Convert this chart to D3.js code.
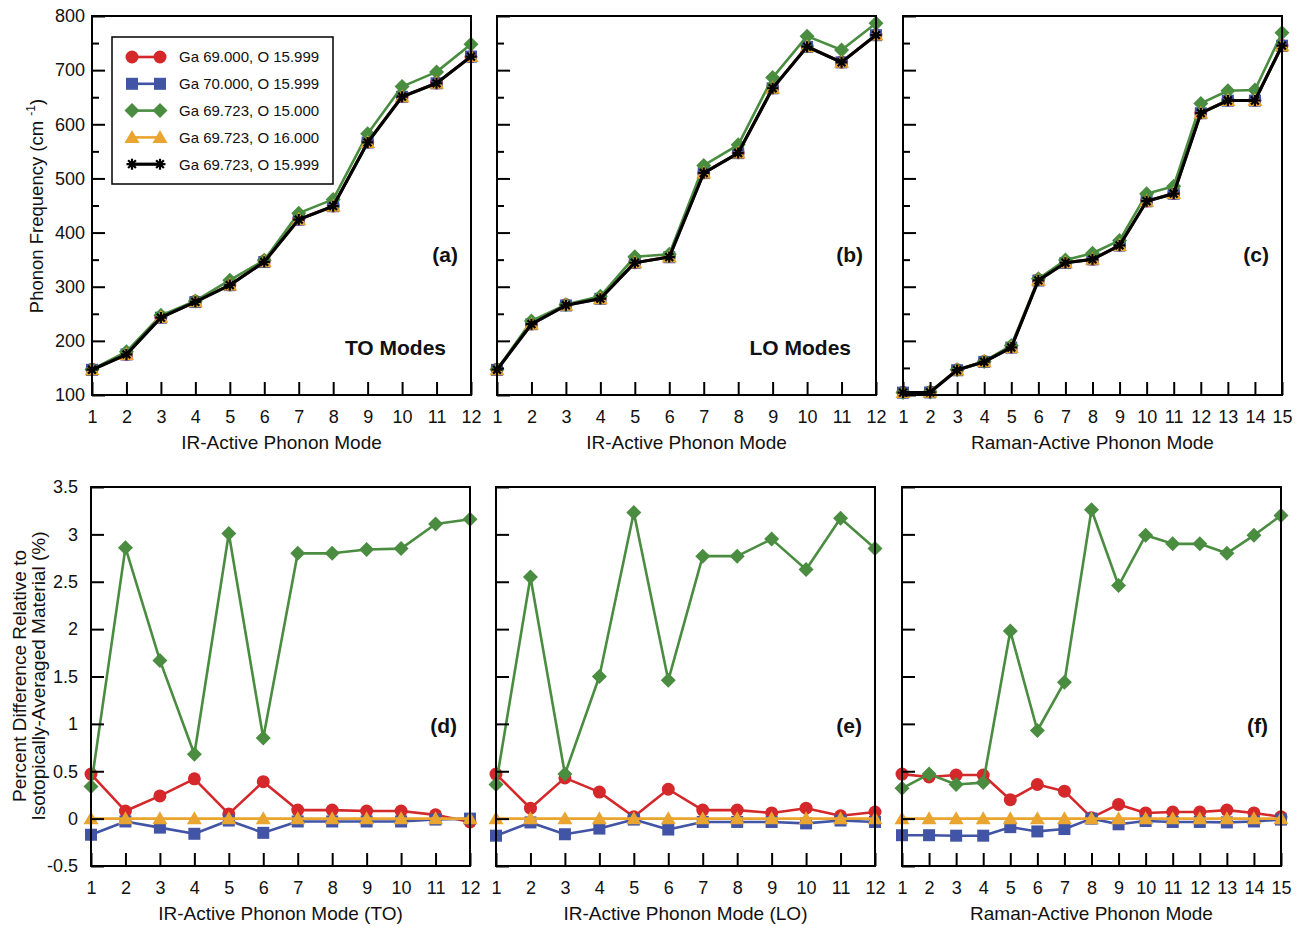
<!DOCTYPE html>
<html>
<head>
<meta charset="utf-8">
<script src="https://cdn.jsdelivr.net/npm/d3@7"></script>
<style>
  body { margin: 0; background: #fff; }
  svg text { font-family: Helvetica, "Liberation Sans", Arial, sans-serif; fill: #111; }
</style>
</head>
<body>
<svg id="chart" width="1306" height="926"></svg>
<script>
// mode numbers
var irModes = d3.range(1, 13);
var ramanModes = d3.range(1, 16);

var seriesNames = ['Ga 69.000, O 15.999', 'Ga 70.000, O 15.999', 'Ga 69.723, O 15.000', 'Ga 69.723, O 16.000', 'Ga 69.723, O 15.999'];

// (a) TO modes, frequency (cm-1)
var toGa69 = [147.4, 175.0, 243.6, 273.1, 303.2, 347.3, 424.4, 449.1, 567.0, 651.5, 676.1, 724.7];
var toGa70 = [146.5, 174.8, 242.8, 271.6, 302.9, 345.5, 423.9, 448.6, 566.3, 650.8, 675.7, 725.0];
var toO15 = [147.2, 179.9, 247.1, 273.8, 312.1, 348.9, 435.9, 461.3, 582.6, 669.6, 696.8, 747.9];
var toO16 = [146.7, 174.9, 243.0, 272.0, 303.0, 346.0, 424.0, 448.7, 566.5, 651.0, 675.8, 725.0];
var toAvg = [146.7, 174.9, 243.0, 272.0, 303.0, 346.0, 424.0, 448.7, 566.5, 651.0, 675.8, 725.0];

// (b) LO modes
var loGa69 = [147.4, 231.1, 266.8, 278.8, 344.4, 355.9, 510.5, 547.4, 667.0, 744.1, 714.7, 765.3];
var loGa70 = [146.4, 230.7, 265.3, 277.7, 344.3, 354.4, 509.8, 546.7, 666.4, 742.9, 714.4, 764.5];
var loO15 = [147.2, 236.7, 266.9, 282.2, 355.4, 360.0, 524.1, 562.1, 686.3, 762.8, 737.2, 786.6];
var loO16 = [146.7, 230.8, 265.7, 278.0, 344.3, 354.8, 510.0, 546.9, 666.6, 743.3, 714.5, 764.8];
var loAvg = [146.7, 230.8, 265.7, 278.0, 344.3, 354.8, 510.0, 546.9, 666.6, 743.3, 714.5, 764.8];

// (c) Raman modes
var raGa69 = [105.0, 105.5, 146.7, 162.1, 188.2, 312.9, 345.3, 350.5, 376.8, 458.2, 472.3, 621.0, 644.5, 644.3, 745.3];
var raGa70 = [104.3, 104.8, 145.7, 161.1, 187.6, 311.4, 343.9, 350.5, 376.0, 457.8, 471.8, 620.4, 643.6, 643.7, 745.1];
var raO15 = [104.8, 105.5, 146.5, 162.0, 191.5, 314.7, 349.3, 361.9, 385.5, 471.6, 485.7, 638.6, 661.9, 663.2, 769.0];
var raO16 = [104.5, 105.0, 146.0, 161.4, 187.8, 311.8, 344.3, 350.5, 376.2, 457.9, 472.0, 620.6, 643.9, 643.9, 745.2];
var raAvg = [104.5, 105.0, 146.0, 161.4, 187.8, 311.8, 344.3, 350.5, 376.2, 457.9, 472.0, 620.6, 643.9, 643.9, 745.2];

// (d) percent difference, TO
var pctToGa69 = [0.47, 0.08, 0.24, 0.42, 0.05, 0.39, 0.09, 0.09, 0.08, 0.08, 0.04, -0.035];
var pctToGa70 = [-0.17, -0.03, -0.095, -0.16, -0.02, -0.15, -0.03, -0.03, -0.03, -0.03, -0.01, 0.0];
var pctToO15 = [0.34, 2.86, 1.67, 0.68, 3.01, 0.85, 2.80, 2.80, 2.84, 2.85, 3.11, 3.16];
var pctToO16 = [0, 0, 0, 0, 0, 0, 0, 0, 0, 0, 0, 0];

// (e) percent difference, LO
var pctLoGa69 = [0.47, 0.11, 0.43, 0.28, 0.02, 0.31, 0.09, 0.09, 0.06, 0.11, 0.03, 0.07];
var pctLoGa70 = [-0.18, -0.04, -0.165, -0.105, -0.01, -0.115, -0.035, -0.035, -0.035, -0.05, -0.02, -0.035];
var pctLoO15 = [0.36, 2.55, 0.47, 1.50, 3.23, 1.46, 2.77, 2.77, 2.95, 2.63, 3.17, 2.85];
var pctLoO16 = [0, 0, 0, 0, 0, 0, 0, 0, 0, 0, 0, 0];

// (f) percent difference, Raman
var pctRaGa69 = [0.47, 0.44, 0.46, 0.46, 0.20, 0.36, 0.29, 0.01, 0.15, 0.06, 0.07, 0.07, 0.09, 0.06, 0.02];
var pctRaGa70 = [-0.175, -0.175, -0.18, -0.18, -0.09, -0.135, -0.11, 0.0, -0.06, -0.025, -0.035, -0.035, -0.04, -0.03, -0.01];
var pctRaO15 = [0.32, 0.47, 0.36, 0.38, 1.98, 0.93, 1.44, 3.26, 2.46, 2.99, 2.90, 2.90, 2.80, 2.99, 3.20];
var pctRaO16 = [0, 0, 0, 0, 0, 0, 0, 0, 0, 0, 0, 0, 0, 0, 0];

var freqTicks = [100, 200, 300, 400, 500, 600, 700, 800];
var freqMinorTicks = [150, 250, 350, 450, 550, 650, 750];
var pctTicks = [-0.5, 0, 0.5, 1, 1.5, 2, 2.5, 3, 3.5];

var colors = ['#d4282b', '#4154a6', '#4a8c40', '#e9a52f', '#000000'];
var shapes = ['circle', 'square', 'diamond', 'triangle', 'star'];

var svg = d3.select('#chart');

function drawMarker(g, shape, color, x, y) {
  if (shape === 'circle') {
    g.append('circle').attr('cx', x).attr('cy', y).attr('r', 6.5).attr('fill', color);
  } else if (shape === 'square') {
    g.append('rect').attr('x', x - 6).attr('y', y - 6).attr('width', 12).attr('height', 12).attr('fill', color);
  } else if (shape === 'diamond') {
    g.append('path').attr('d', 'M' + x + ',' + (y - 7.5) + 'L' + (x + 7.5) + ',' + y + 'L' + x + ',' + (y + 7.5) + 'L' + (x - 7.5) + ',' + y + 'Z').attr('fill', color);
  } else if (shape === 'triangle') {
    g.append('path').attr('d', 'M' + x + ',' + (y - 7.5) + 'L' + (x + 7.5) + ',' + (y + 5.5) + 'L' + (x - 7.5) + ',' + (y + 5.5) + 'Z').attr('fill', color);
  } else {
    var r = 5.5, d = r * 0.7071;
    g.append('path')
      .attr('d', 'M' + (x - r) + ',' + y + 'L' + (x + r) + ',' + y +
        'M' + x + ',' + (y - r) + 'L' + x + ',' + (y + r) +
        'M' + (x - d) + ',' + (y - d) + 'L' + (x + d) + ',' + (y + d) +
        'M' + (x - d) + ',' + (y + d) + 'L' + (x + d) + ',' + (y - d))
      .attr('stroke', color).attr('stroke-width', 2.2).attr('fill', 'none');
  }
}

function drawPanel(p) {
  var x = d3.scaleLinear().domain([1, p.modes.length]).range([p.left, p.left + p.size]);
  var y = d3.scaleLinear().domain(p.yDomain).range([p.top + p.size, p.top]);
  var g = svg.append('g');

  // series lines and markers
  p.series.forEach(function (s) {
    var line = d3.line().x(function (d, i) { return x(p.modes[i]); }).y(function (d) { return y(d); });
    g.append('path').datum(s.values).attr('d', line)
      .attr('fill', 'none').attr('stroke', colors[s.idx]).attr('stroke-width', s.idx === 4 ? 3.2 : 2.6)
      .attr('stroke-linejoin', 'round');
    s.values.forEach(function (v, i) {
      drawMarker(g, shapes[s.idx], colors[s.idx], x(p.modes[i]), y(v));
    });
  });

  // axes, ticks inward
  g.append('g').attr('transform', 'translate(0,' + (p.top + p.size) + ')')
    .call(d3.axisBottom(x).tickValues(p.modes).tickFormat(d3.format('d')).tickSize(-13).tickPadding(15));
  g.append('g').attr('transform', 'translate(' + p.left + ',0)')
    .call(d3.axisLeft(y).tickValues(p.yTicks).tickSize(-13).tickPadding(p.labelPad)
      .tickFormat(p.showYLabels ? function (d) { return String(d); } : ''));
  if (p.minorTicks) {
    g.append('g').attr('transform', 'translate(' + p.left + ',0)')
      .call(d3.axisLeft(y).tickValues(p.minorTicks).tickSize(-7).tickFormat(''));
  }
  g.selectAll('.domain').remove();
  g.selectAll('.tick line').attr('stroke', '#000').attr('stroke-width', 2);
  g.selectAll('.tick text').attr('font-size', 18).attr('fill', '#111')
    .style('font-family', 'Helvetica, "Liberation Sans", Arial, sans-serif');

  g.append('rect').attr('x', p.left).attr('y', p.top).attr('width', p.size).attr('height', p.size)
    .attr('fill', 'none').attr('stroke', '#000').attr('stroke-width', 2);

  g.append('text').attr('x', p.left + p.size / 2).attr('y', p.top + p.size + 54)
    .attr('text-anchor', 'middle').attr('font-size', 19).text(p.xTitle);

  g.append('text').attr('x', p.left + p.size - 13).attr('y', p.top + 239).attr('dy', '0.35em')
    .attr('text-anchor', 'end').attr('font-size', 21).attr('font-weight', 'bold').text(p.tag);

  if (p.note) {
    g.append('text').attr('x', p.left + p.size - 25).attr('y', p.top + 332).attr('dy', '0.35em')
      .attr('text-anchor', 'end').attr('font-size', 21).attr('font-weight', 'bold').text(p.note);
  }
}

var size = 379;
var topY = 16, botY = 487;
var lefts = [92, 497, 903];

function freqPanel(k, modes, data, xTitle, tag, note) {
  drawPanel({
    left: lefts[k], top: topY, size: size, modes: modes,
    yDomain: [100, 800], yTicks: freqTicks, minorTicks: freqMinorTicks,
    showYLabels: k === 0, labelPad: 7, xTitle: xTitle, tag: tag, note: note,
    series: data.map(function (v, i) { return { idx: i, values: v }; })
  });
}

function pctPanel(k, modes, data, xTitle, tag) {
  drawPanel({
    left: lefts[k] - 1, top: botY, size: size, modes: modes,
    yDomain: [-0.5, 3.5], yTicks: pctTicks, minorTicks: null,
    showYLabels: k === 0, labelPad: 13, xTitle: xTitle, tag: tag,
    series: data.map(function (v, i) { return { idx: i, values: v }; })
  });
}

freqPanel(0, irModes, [toGa69, toGa70, toO15, toO16, toAvg], 'IR-Active Phonon Mode', '(a)', 'TO Modes');
freqPanel(1, irModes, [loGa69, loGa70, loO15, loO16, loAvg], 'IR-Active Phonon Mode', '(b)', 'LO Modes');
freqPanel(2, ramanModes, [raGa69, raGa70, raO15, raO16, raAvg], 'Raman-Active Phonon Mode', '(c)', null);

pctPanel(0, irModes, [pctToGa69, pctToGa70, pctToO15, pctToO16], 'IR-Active Phonon Mode (TO)', '(d)');
pctPanel(1, irModes, [pctLoGa69, pctLoGa70, pctLoO15, pctLoO16], 'IR-Active Phonon Mode (LO)', '(e)');
pctPanel(2, ramanModes, [pctRaGa69, pctRaGa70, pctRaO15, pctRaO16], 'Raman-Active Phonon Mode', '(f)');

// y titles
var t1 = svg.append('text').attr('transform', 'translate(43,206) rotate(-90)')
  .attr('text-anchor', 'middle').attr('font-size', 18.5);
t1.append('tspan').text('Phonon Frequency (cm ');
t1.append('tspan').attr('font-size', 12).attr('dy', -8).text('-1');
t1.append('tspan').attr('dy', 8).text(')');

svg.append('text').attr('transform', 'translate(26,676) rotate(-90)')
  .attr('text-anchor', 'middle').attr('font-size', 19).text('Percent Difference Relative to');
svg.append('text').attr('transform', 'translate(45,676) rotate(-90)')
  .attr('text-anchor', 'middle').attr('font-size', 19).text('Isotopically-Averaged Material (%)');

// legend
var leg = svg.append('g');
leg.append('rect').attr('x', 112).attr('y', 37).attr('width', 221).attr('height', 147)
  .attr('fill', '#fff').attr('stroke', '#000').attr('stroke-width', 1.5);
seriesNames.forEach(function (name, i) {
  var ly = 57 + i * 26.8;
  leg.append('line').attr('x1', 132).attr('x2', 160).attr('y1', ly).attr('y2', ly)
    .attr('stroke', colors[i]).attr('stroke-width', i === 4 ? 3.2 : 2.6);
  drawMarker(leg, shapes[i], colors[i], 132, ly);
  drawMarker(leg, shapes[i], colors[i], 160, ly);
  leg.append('text').attr('x', 179).attr('y', ly).attr('dy', '0.36em')
    .attr('font-size', 15).text(name);
});
</script>
</body>
</html>
